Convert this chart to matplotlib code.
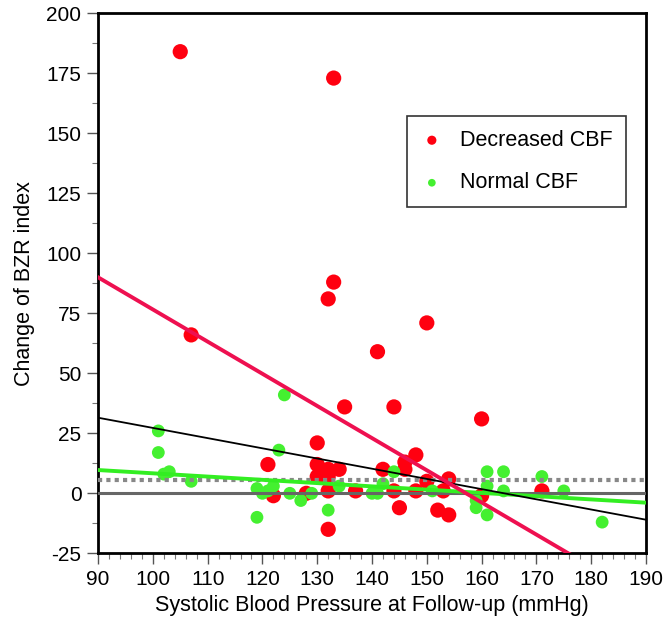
import numpy as np
import matplotlib.pyplot as plt

plt.rcParams['font.family'] = ['Liberation Sans', 'DejaVu Sans']
plt.rcParams['axes.unicode_minus'] = False

# Decreased CBF group (red)
dec_sbp = [105, 133, 107, 133, 132, 150, 141, 135, 144, 160, 130, 121, 130, 134, 132,
           130, 132, 122, 128, 132, 132, 137, 148, 146, 146, 142, 154, 150, 144, 148,
           153, 145, 152, 154, 160, 171]
dec_bzr = [184, 173, 66, 88, 81, 71, 59, 36, 36, 31, 21, 12, 12, 10, 10,
           7, 7, -1, 0, 1, -15, 1, 16, 13, 10, 10, 6, 5, 1, 1,
           1, -6, -7, -9, -1, 1]

# Normal CBF group (green)
nor_sbp = [101, 101, 102, 103, 107, 119, 123, 124, 119, 120, 121, 122, 125, 127, 129,
           132, 134, 140, 141, 144, 142, 151, 161, 164, 161, 164, 159, 159, 161, 171,
           175, 182]
nor_bzr = [26, 17, 8, 9, 5, -10, 18, 41, 2, 0, 1, 3, 0, -3, 0,
           -7, 3, 0, 0, 9, 4, 1, 9, 9, 3, 1, -3, -6, -9, 7,
           1, -12]

# regression lines (intercept at 90 mmHg, slope)
fit_x = [90, 190]
red_fit = (90.0, -1.34)
black_fit = (31.5, -0.425)
green_fit = (9.7, -0.136)
ref_band = 5.5

fig = plt.figure(figsize=(6.67, 6.26), dpi=100)
ax = fig.add_axes([0.147, 0.1161, 0.8215, 0.8627])

ax.scatter(dec_sbp, dec_bzr, s=120, color='#ff0010', edgecolors='none', zorder=2, label='Decreased CBF')
ax.scatter(nor_sbp, nor_bzr, s=85, color='#44f030', edgecolors='none', zorder=2, label='Normal CBF')

fx = np.array(fit_x)
ax.axhline(0, color='#666666', lw=2.2, zorder=3)
ax.axhline(ref_band, color='#888888', lw=3, ls=(0, (1, 1)), zorder=3)
ax.plot(fx, green_fit[0] + green_fit[1] * (fx - 90), color='#33ee22', lw=2.8, zorder=4)
ax.plot(fx, black_fit[0] + black_fit[1] * (fx - 90), color='black', lw=1.3, zorder=4)
ax.plot(fx, red_fit[0] + red_fit[1] * (fx - 90), color='#ee1050', lw=2.8, zorder=4)

ax.set_xlim(90, 190)
ax.set_ylim(-25, 200)
ax.set_xticks(np.arange(90, 191, 10))
ax.set_yticks(np.arange(-25, 201, 25))
ax.set_xticks(np.arange(90, 191, 2), minor=True)
ax.set_yticks(np.arange(-25, 201, 12.5), minor=True)
ax.tick_params(which='major', direction='out', length=8, width=1, labelsize=15, pad=4, color='#555555')
ax.tick_params(which='minor', direction='out', length=4, width=0.8, color='#777777')
for sp in ax.spines.values():
    sp.set_linewidth(2)

ax.set_xlabel('Systolic Blood Pressure at Follow-up (mmHg)', fontsize=15.5, labelpad=4)
ax.set_ylabel('Change of BZR index', fontsize=15.5, labelpad=8)

leg = ax.legend(loc='upper left', bbox_to_anchor=(0.564, 0.81), borderaxespad=0, fontsize=15.5,
                frameon=True, fancybox=False, edgecolor='black', markerscale=0.6,
                handletextpad=0.8, borderpad=0.65, labelspacing=1.0, handlelength=1.0)
leg.get_frame().set_linewidth(1.2)

fig.savefig('out.png', dpi=100)
